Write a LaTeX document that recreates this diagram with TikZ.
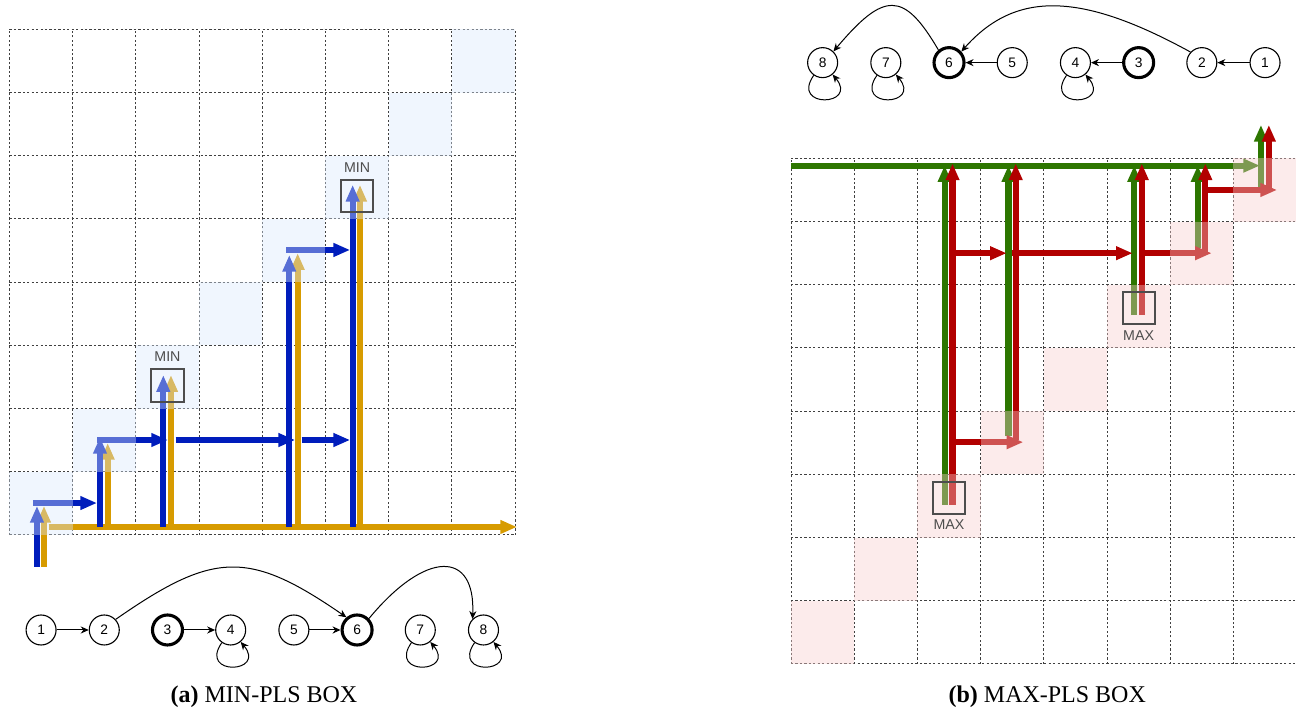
\documentclass[tikz,border=0pt]{standalone}
\usepackage{fontspec}
\setmainfont{Liberation Serif}
\newfontfamily\labelfont{Liberation Sans}
\usepackage{tikz}
\usetikzlibrary{arrows.meta,positioning}
\definecolor{minblue}{HTML}{001DBC}
\definecolor{minorange}{HTML}{D79B00}
\definecolor{maxgreen}{HTML}{2D7600}
\definecolor{maxred}{HTML}{B20000}
\definecolor{tintblue}{HTML}{DAE8FC}
\definecolor{tintred}{HTML}{F8CECC}
\definecolor{markgray}{HTML}{4D4D4D}

\begin{document}
\begin{tikzpicture}[
  gridline/.style={black!75,line width=0.45pt,dash pattern=on 1pt off 1pt},
  flow/.style={line width=2.8pt,-{Triangle[length=7.5pt,width=5.8pt]}},
  diagblue/.style={fill=tintblue,fill opacity=0.4},
  diagred/.style={fill=tintred,fill opacity=0.4},
  markbox/.style={draw=markgray,line width=0.9pt,minimum size=0.51cm,inner sep=0pt},
  marktext/.style={font=\labelfont\fontsize{6.4}{7}\selectfont,text=markgray,inner sep=0pt},
  state/.style={circle,draw,line width=0.5pt,minimum size=13.5pt,inner sep=0pt,
               font=\labelfont\fontsize{6.2}{7}\selectfont},
  keystate/.style={state,line width=1.4pt},
  link/.style={line width=0.45pt,-{Stealth[length=3.6pt,width=3.2pt]}},
  captiontext/.style={font=\fontsize{10.8}{13}\selectfont,anchor=base},
]
  \useasboundingbox (-0.150,-2.832) rectangle (20.356,8.465);

  % (a) MIN-PLS BOX
  \draw[gridline] (0,0) grid (8,8);

  \draw[flow,minorange] (0.62,0.127) -- (8.03,0.127);
  \draw[flow,minorange] (0.546,-0.506) -- (0.546,0.46);
  \draw[flow,minorange] (1.554,0.127) -- (1.554,1.456);
  \draw[flow,minorange] (2.555,0.127) -- (2.555,2.53);
  \draw[flow,minorange] (4.56,0.127) -- (4.56,4.46);
  \draw[flow,minorange] (5.546,0.127) -- (5.546,5.54);

  \draw[flow,minblue] (0.435,-0.506) -- (0.435,0.46);
  \draw[flow,minblue] (1.432,0.127) -- (1.432,1.55);
  \draw[flow,minblue] (2.434,0.127) -- (2.434,2.53);
  \draw[flow,minblue] (4.427,0.127) -- (4.427,4.43);
  \draw[flow,minblue] (5.43,0.127) -- (5.43,5.54);
  \draw[flow,minblue] (0.372,0.506) -- (1.385,0.506);
  \draw[flow,minblue] (1.385,1.503) -- (2.508,1.503);
  \draw[flow,minblue] (2.627,1.503) -- (4.52,1.503);
  \draw[flow,minblue] (4.624,1.503) -- (5.39,1.503);
  \draw[flow,minblue] (4.376,4.51) -- (5.39,4.51);

  \fill[diagblue] (0,0) rectangle (1,1);
  \fill[diagblue] (1,1) rectangle (2,2);
  \fill[diagblue] (2,2) rectangle (3,3);
  \fill[diagblue] (3,3) rectangle (4,4);
  \fill[diagblue] (4,4) rectangle (5,5);
  \fill[diagblue] (5,5) rectangle (6,6);
  \fill[diagblue] (6,6) rectangle (7,7);
  \fill[diagblue] (7,7) rectangle (8,8);

  \node[markbox] (minA) at (2.5,2.365) {};
  \node[marktext] (minAtxt) at (2.5,2.82) {MIN};
  \node[markbox] (minB) at (5.5,5.365) {};
  \node[marktext] (minBtxt) at (5.5,5.82) {MIN};

  \node[state]    (a1) at (0.5,-1.503) {1};
  \node[state]    (a2) at (1.5,-1.503) {2};
  \node[keystate] (a3) at (2.5,-1.503) {3};
  \node[state]    (a4) at (3.5,-1.503) {4};
  \node[state]    (a5) at (4.5,-1.503) {5};
  \node[keystate] (a6) at (5.5,-1.503) {6};
  \node[state]    (a7) at (6.5,-1.503) {7};
  \node[state]    (a8) at (7.5,-1.503) {8};

  \draw[link] (a1) -- (a2);
  \draw[link] (a3) -- (a4);
  \draw[link] (a5) -- (a6);
  \draw[link] (a2.43) .. controls +(1.55,1.08) and +(-1.55,1.07) .. (a6.130);
  \draw[link] (a6.44) .. controls +(0.9,1.09) and +(0.05,1.09) .. (a8.135);
  \draw[link] (a4) to[out=-125,in=-50,distance=0.65cm] (a4);
  \draw[link] (a7) to[out=-125,in=-50,distance=0.65cm] (a7);
  \draw[link] (a8) to[out=-125,in=-50,distance=0.65cm] (a8);

  \node[captiontext] (capA) at (4.027,-2.65) {\textbf{(a)} MIN-PLS BOX};

  % (b) MAX-PLS BOX
  \begin{scope}[shift={(12.366,-2.041)}]
    \draw[gridline] (0,0) grid (8,8);

    \draw[flow,maxgreen] (0,7.885) -- (7.42,7.885);
    \draw[flow,maxgreen] (2.43,2.52) -- (2.43,7.89);
    \draw[flow,maxgreen] (3.44,3.6) -- (3.44,7.89);
    \draw[flow,maxgreen] (5.43,5.52) -- (5.43,7.89);
    \draw[flow,maxgreen] (6.435,6.58) -- (6.435,7.89);
    \draw[flow,maxgreen] (7.435,7.55) -- (7.435,8.53);

    \draw[flow,maxred] (2.555,2.52) -- (2.555,7.92);
    \draw[flow,maxred] (3.555,3.545) -- (3.555,7.92);
    \draw[flow,maxred] (5.55,5.52) -- (5.55,7.92);
    \draw[flow,maxred] (6.555,6.5) -- (6.555,7.92);
    \draw[flow,maxred] (7.56,7.5) -- (7.56,8.53);
    \draw[flow,maxred] (2.505,3.51) -- (3.676,3.51);
    \draw[flow,maxred] (2.516,6.5) -- (3.413,6.5);
    \draw[flow,maxred] (3.50,6.5) -- (5.406,6.5);
    \draw[flow,maxred] (5.51,6.5) -- (6.657,6.5);
    \draw[flow,maxred] (6.52,7.5) -- (7.69,7.5);

    \fill[diagred] (0,0) rectangle (1,1);
    \fill[diagred] (1,1) rectangle (2,2);
    \fill[diagred] (2,2) rectangle (3,3);
    \fill[diagred] (3,3) rectangle (4,4);
    \fill[diagred] (4,4) rectangle (5,5);
    \fill[diagred] (5,5) rectangle (6,6);
    \fill[diagred] (6,6) rectangle (7,7);
    \fill[diagred] (7,7) rectangle (8,8);

    \node[markbox] (maxA) at (2.5,2.63) {};
    \node[marktext] (maxAtxt) at (2.5,2.2) {MAX};
    \node[markbox] (maxB) at (5.5,5.63) {};
    \node[marktext] (maxBtxt) at (5.5,5.2) {MAX};

    \node[state]    (b8) at (0.5,9.515) {8};
    \node[state]    (b7) at (1.5,9.515) {7};
    \node[keystate] (b6) at (2.5,9.515) {6};
    \node[state]    (b5) at (3.5,9.515) {5};
    \node[state]    (b4) at (4.5,9.515) {4};
    \node[keystate] (b3) at (5.5,9.515) {3};
    \node[state]    (b2) at (6.5,9.515) {2};
    \node[state]    (b1) at (7.5,9.515) {1};

    \draw[link] (b1) -- (b2);
    \draw[link] (b3) -- (b4);
    \draw[link] (b5) -- (b6);
    \draw[link] (b2.137) .. controls +(-1.75,0.96) and +(0.85,0.96) .. (b6.42);
    \draw[link] (b6.130) .. controls +(-0.55,0.94) and +(0.8,0.95) .. (b8.46);
    \draw[link] (b4) to[out=-125,in=-50,distance=0.65cm] (b4);
    \draw[link] (b7) to[out=-125,in=-50,distance=0.65cm] (b7);
    \draw[link] (b8) to[out=-125,in=-50,distance=0.65cm] (b8);
  \end{scope}

  \node[captiontext] (capB) at (16.42,-2.65) {\textbf{(b)} MAX-PLS BOX};
\end{tikzpicture}
\end{document}
